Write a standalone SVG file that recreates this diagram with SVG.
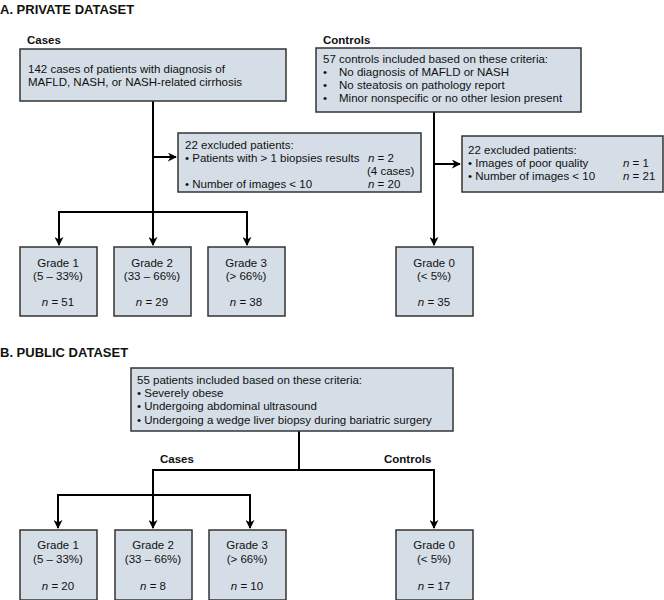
<svg xmlns="http://www.w3.org/2000/svg" width="664" height="600" viewBox="0 0 664 600">
<defs>
<style>
text{font-family:"Liberation Sans",Arial,sans-serif;font-size:11.5px;fill:#111}
.h{font-weight:bold;font-size:13px}
.b{font-weight:bold;font-size:11.5px}
.box{fill:#d5dee7;stroke:#333;stroke-width:1.5}
.c{text-anchor:middle}
.ln{fill:none;stroke:#000;stroke-width:2}
</style>
<marker id="ar" viewBox="0 0 10 10" refX="9" refY="5" markerWidth="4.5" markerHeight="4.5" orient="auto"><path d="M0,0 L10,5 L0,10 L3,5 z" fill="#000"/></marker>
</defs>
<text x="0" y="14" class="h">A. PRIVATE DATASET</text>
<text x="27" y="44" class="b">Cases</text>
<text x="323" y="44" class="b">Controls</text>
<text x="0" y="357" class="h">B. PUBLIC DATASET</text>
<text x="160" y="463" class="b">Cases</text>
<text x="384" y="463" class="b">Controls</text>
<g id="connectors">
<path class="ln" d="M153,101 V212"/>
<path class="ln" d="M153,157 H176" marker-end="url(#ar)"/>
<path class="ln" d="M59,245 V212 H247 V245" marker-end="url(#ar)"/>
<path class="ln" d="M59,212 V245" marker-end="url(#ar)"/>
<path class="ln" d="M153,212 V245" marker-end="url(#ar)"/>
<path class="ln" d="M434,112 V245" marker-end="url(#ar)"/>
<path class="ln" d="M434,164 H460" marker-end="url(#ar)"/>
<path class="ln" d="M299,431 V470 H153 V528" marker-end="url(#ar)"/>
<path class="ln" d="M299,470 H434 V528" marker-end="url(#ar)"/>
<path class="ln" d="M58,528 V495 H250 V528" marker-end="url(#ar)"/>
<path class="ln" d="M58,495 V528" marker-end="url(#ar)"/>
</g>
<g id="cases-a"><rect class="box" x="20" y="49" width="266" height="52"/>
<text x="28" y="73">142 cases of patients with diagnosis of</text><text x="28" y="86">MAFLD, NASH, or NASH-related cirrhosis</text></g>
<g id="excl-a"><rect class="box" x="178" y="133" width="243" height="59"/>
<text x="185" y="149">22 excluded patients:</text>
<text x="185" y="162">• Patients with &gt; 1 biopsies results</text><text x="368" y="162"><tspan font-style="italic">n</tspan> = 2</text>
<text x="367" y="175">(4 cases)</text>
<text x="185" y="188">• Number of images &lt; 10</text><text x="368" y="188"><tspan font-style="italic">n</tspan> = 20</text></g>
<g id="controls-a"><rect class="box" x="316" y="48" width="265" height="64"/>
<text x="323" y="63">57 controls included based on these criteria:</text>
<text x="323" y="76">•</text><text x="339" y="76">No diagnosis of MAFLD or NASH</text>
<text x="323" y="89">•</text><text x="339" y="89">No steatosis on pathology report</text>
<text x="323" y="102">•</text><text x="339" y="102">Minor nonspecific or no other lesion present</text></g>
<g id="excl-b"><rect class="box" x="462" y="136" width="201" height="56"/>
<text x="468" y="154">22 excluded patients:</text>
<text x="468" y="167">• Images of poor quality</text><text x="623" y="167"><tspan font-style="italic">n</tspan> = 1</text>
<text x="468" y="180">• Number of images &lt; 10</text><text x="623" y="180"><tspan font-style="italic">n</tspan> = 21</text></g>
<g id="a-g1"><rect class="box" x="20" y="247" width="77" height="69"/><text class="c" x="58" y="267">Grade 1</text><text class="c" x="58" y="280">(5 – 33%)</text><text class="c" x="58" y="306"><tspan font-style="italic">n</tspan> = 51</text></g>
<g id="a-g2"><rect class="box" x="114" y="247" width="77" height="69"/><text class="c" x="152" y="267">Grade 2</text><text class="c" x="152" y="280">(33 – 66%)</text><text class="c" x="152" y="306"><tspan font-style="italic">n</tspan> = 29</text></g>
<g id="a-g3"><rect class="box" x="208" y="247" width="77" height="69"/><text class="c" x="246" y="267">Grade 3</text><text class="c" x="246" y="280">(&gt; 66%)</text><text class="c" x="246" y="306"><tspan font-style="italic">n</tspan> = 38</text></g>
<g id="a-g0"><rect class="box" x="396" y="247" width="77" height="69"/><text class="c" x="434" y="267">Grade 0</text><text class="c" x="434" y="280">(&lt; 5%)</text><text class="c" x="434" y="306"><tspan font-style="italic">n</tspan> = 35</text></g>
<g id="b-crit"><rect class="box" x="131" y="368" width="322" height="63"/>
<text x="137" y="384">55 patients included based on these criteria:</text>
<text x="137" y="397">• Severely obese</text>
<text x="137" y="410">• Undergoing abdominal ultrasound</text>
<text x="137" y="424">• Undergoing a wedge liver biopsy during bariatric surgery</text></g>
<g id="b-g1"><rect class="box" x="20" y="530" width="77" height="70"/><text class="c" x="58" y="549">Grade 1</text><text class="c" x="58" y="563">(5 – 33%)</text><text class="c" x="58" y="590"><tspan font-style="italic">n</tspan> = 20</text></g>
<g id="b-g2"><rect class="box" x="115" y="530" width="77" height="70"/><text class="c" x="153" y="549">Grade 2</text><text class="c" x="153" y="563">(33 – 66%)</text><text class="c" x="153" y="590"><tspan font-style="italic">n</tspan> = 8</text></g>
<g id="b-g3"><rect class="box" x="209" y="530" width="77" height="70"/><text class="c" x="247" y="549">Grade 3</text><text class="c" x="247" y="563">(&gt; 66%)</text><text class="c" x="247" y="590"><tspan font-style="italic">n</tspan> = 10</text></g>
<g id="b-g0"><rect class="box" x="396" y="530" width="77" height="70"/><text class="c" x="434" y="549">Grade 0</text><text class="c" x="434" y="563">(&lt; 5%)</text><text class="c" x="434" y="590"><tspan font-style="italic">n</tspan> = 17</text></g>
</svg>
